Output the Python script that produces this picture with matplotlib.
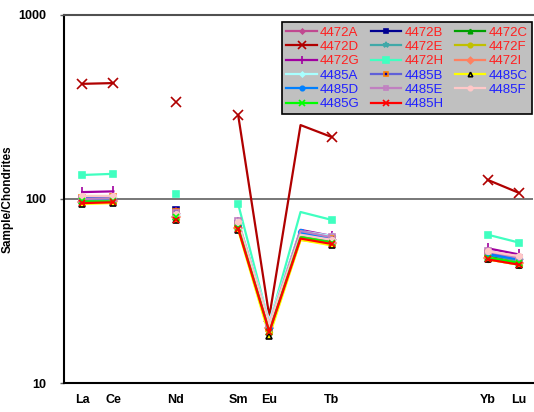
import numpy as np
import matplotlib.pyplot as plt

plt.rcParams['font.family'] = ['Liberation Sans', 'DejaVu Sans']

# element order La..Lu, missing ones are NaN
elements = ['La', 'Ce', 'Pr', 'Nd', 'Pm', 'Sm', 'Eu', 'Gd', 'Tb', 'Dy', 'Ho', 'Er', 'Tm', 'Yb', 'Lu']
shown = ['La', 'Ce', 'Nd', 'Sm', 'Eu', 'Tb', 'Yb', 'Lu']
nan = np.nan

# values for La, Ce, Nd, Sm, Eu, Gd, Tb, Yb, Lu
measured = ['La', 'Ce', 'Nd', 'Sm', 'Eu', 'Gd', 'Tb', 'Yb', 'Lu']
samples = ['4472A', '4472B', '4472C', '4472D', '4472E', '4472F', '4472G', '4472H', '4472I',
           '4485A', '4485B', '4485C', '4485D', '4485E', '4485F', '4485G', '4485H']
values = {
    '4472A': [99, 100, 84, 74, 20, 65, 61, 51, 47],
    '4472B': [99, 100, 87, 73, 21, 66, 61, 50, 47],
    '4472C': [97, 98, 80, 71, 19, 63, 59, 49, 46],
    '4472D': [422, 426, 336, 286, 23, 252, 217, 127, 108],
    '4472E': [98, 99, 82, 72, 20, 64, 60, 50, 46],
    '4472F': [95, 96, 78, 69, 19, 60, 57, 47, 44],
    '4472G': [109, 110, 85, 75, 21, 68, 63, 54, 50],
    '4472H': [135, 137, 106, 94, 21, 85, 77, 64, 58],
    '4472I': [96, 97, 80, 70, 20, 62, 58, 48, 45],
    '4485A': [102, 103, 82, 76, 22, 67, 63, 52, 48],
    '4485B': [101, 102, 85, 72, 20, 66, 61, 51, 47],
    '4485C': [94, 95, 77, 68, 18, 60, 56, 47, 44],
    '4485D': [100, 101, 83, 72, 20, 66, 60, 50, 47],
    '4485E': [100, 101, 84, 76, 21, 67, 62, 52, 48],
    '4485F': [104, 104, 83, 75, 21, 64, 60, 52, 49],
    '4485G': [97, 97, 80, 70, 19, 62, 58, 48, 45],
    '4485H': [95, 96, 77, 69, 19, 61, 57, 47, 44],
}

styles = {
    '4472A': dict(color='#C04890', marker='D', ms=3, mfc='#C04890', mec='#C04890'),
    '4472B': dict(color='#000090', marker='s', ms=4, mfc='#000090', mec='#000090'),
    '4472C': dict(color='#00A000', marker='^', ms=4, mfc='#00A000', mec='#00A000'),
    '4472D': dict(color='#B00000', marker='x', ms=7, mfc='#B00000', mec='#B00000'),
    '4472E': dict(color='#40A8A8', marker='*', ms=5, mfc='#40A8A8', mec='#40A8A8'),
    '4472F': dict(color='#C0C000', marker='o', ms=4, mfc='#C0C000', mec='#C0C000'),
    '4472G': dict(color='#A000A0', marker='|', ms=7, mfc='#A000A0', mec='#A000A0'),
    '4472H': dict(color='#40FFC0', marker='s', ms=5, mfc='#40FFC0', mec='#40FFC0'),
    '4472I': dict(color='#FF8060', marker='D', ms=4, mfc='#FF8060', mec='#FF8060'),
    '4485A': dict(color='#A8FFFF', marker='D', ms=3, mfc='#A8FFFF', mec='#A8FFFF'),
    '4485B': dict(color='#6060D8', marker='s', ms=4, mfc='#0000A0', mec='#FF8000'),
    '4485C': dict(color='#FFFF00', marker='^', ms=4, mfc='#FFFF00', mec='black'),
    '4485D': dict(color='#0080FF', marker='o', ms=4, mfc='#0080FF', mec='#0080FF'),
    '4485E': dict(color='#C080C0', marker='s', ms=4, mfc='none', mec='#C080C0'),
    '4485F': dict(color='#FFC8C8', marker='o', ms=4, mfc='#FFC8C8', mec='#FFC8C8'),
    '4485G': dict(color='#00FF00', marker='x', ms=5, mfc='#00FF00', mec='#00FF00'),
    '4485H': dict(color='#FF0000', marker='x', ms=5, mfc='#FF0000', mec='#FF0000'),
}

fig = plt.figure(figsize=(5.34, 4.12), dpi=100)
ax = fig.add_axes([0.12, 0.07, 0.878, 0.894])

x = np.arange(len(elements))
gd = elements.index('Gd')
handles = {}
for s in samples:
    y = np.full(len(elements), nan)
    for el, v in zip(measured, values[s]):
        y[elements.index(el)] = v
    marks = [i for i in range(len(elements)) if not np.isnan(y[i]) and (i != gd or s == '4485D')]
    handles[s], = ax.plot(x, y, lw=1.6, markevery=marks, mew=1.2, label=s, **styles[s])

ax.set_yscale('log')
ax.set_ylim(10, 1000)
ax.set_xlim(-0.58, 14.45)
ax.set_yticks([10, 100, 1000])
ax.set_yticklabels(['10', '100', '1000'], fontweight='bold', fontsize=9)
ax.minorticks_off()
ax.set_xticks([elements.index(e) for e in shown])
ax.set_xticklabels(shown, fontweight='bold', fontsize=9)
ax.tick_params(axis='x', length=0, pad=8)
ax.tick_params(axis='y', length=3, width=1, color='#606060', pad=10)
ax.axhline(100, color='#606060', lw=1.2, zorder=0)
ax.set_ylabel('Sample/Chondrites', fontweight='bold', fontsize=8.5)
ax.yaxis.set_label_coords(-0.108, 0.5)
for side in ['left', 'bottom']:
    ax.spines[side].set_linewidth(1.5)
ax.spines['top'].set_color('#505050')
ax.spines['top'].set_linewidth(1.5)
ax.spines['right'].set_visible(False)

# legend is filled row by row in the reference; matplotlib fills by column
ncol = 3
nrow = int(np.ceil(len(samples) / ncol))
order = []
for c in range(ncol):
    for r in range(nrow):
        i = r * ncol + c
        if i < len(samples):
            order.append(samples[i])
leg = ax.legend([handles[s] for s in order], order, ncol=ncol, loc='upper right',
                bbox_to_anchor=(1.0, 0.983), borderaxespad=0.1, fontsize=9.5, markerscale=0.8,
                frameon=True, fancybox=False, facecolor='#C0C0C0', edgecolor='black',
                framealpha=1, handlelength=2.3, handletextpad=0.25, columnspacing=0.85,
                labelspacing=0.16, borderpad=0.3)
leg.get_frame().set_linewidth(1.2)
for t in leg.get_texts():
    t.set_color('#FF2020' if t.get_text().startswith('4472') else '#2020FF')

fig.savefig('out.png', dpi=100)
